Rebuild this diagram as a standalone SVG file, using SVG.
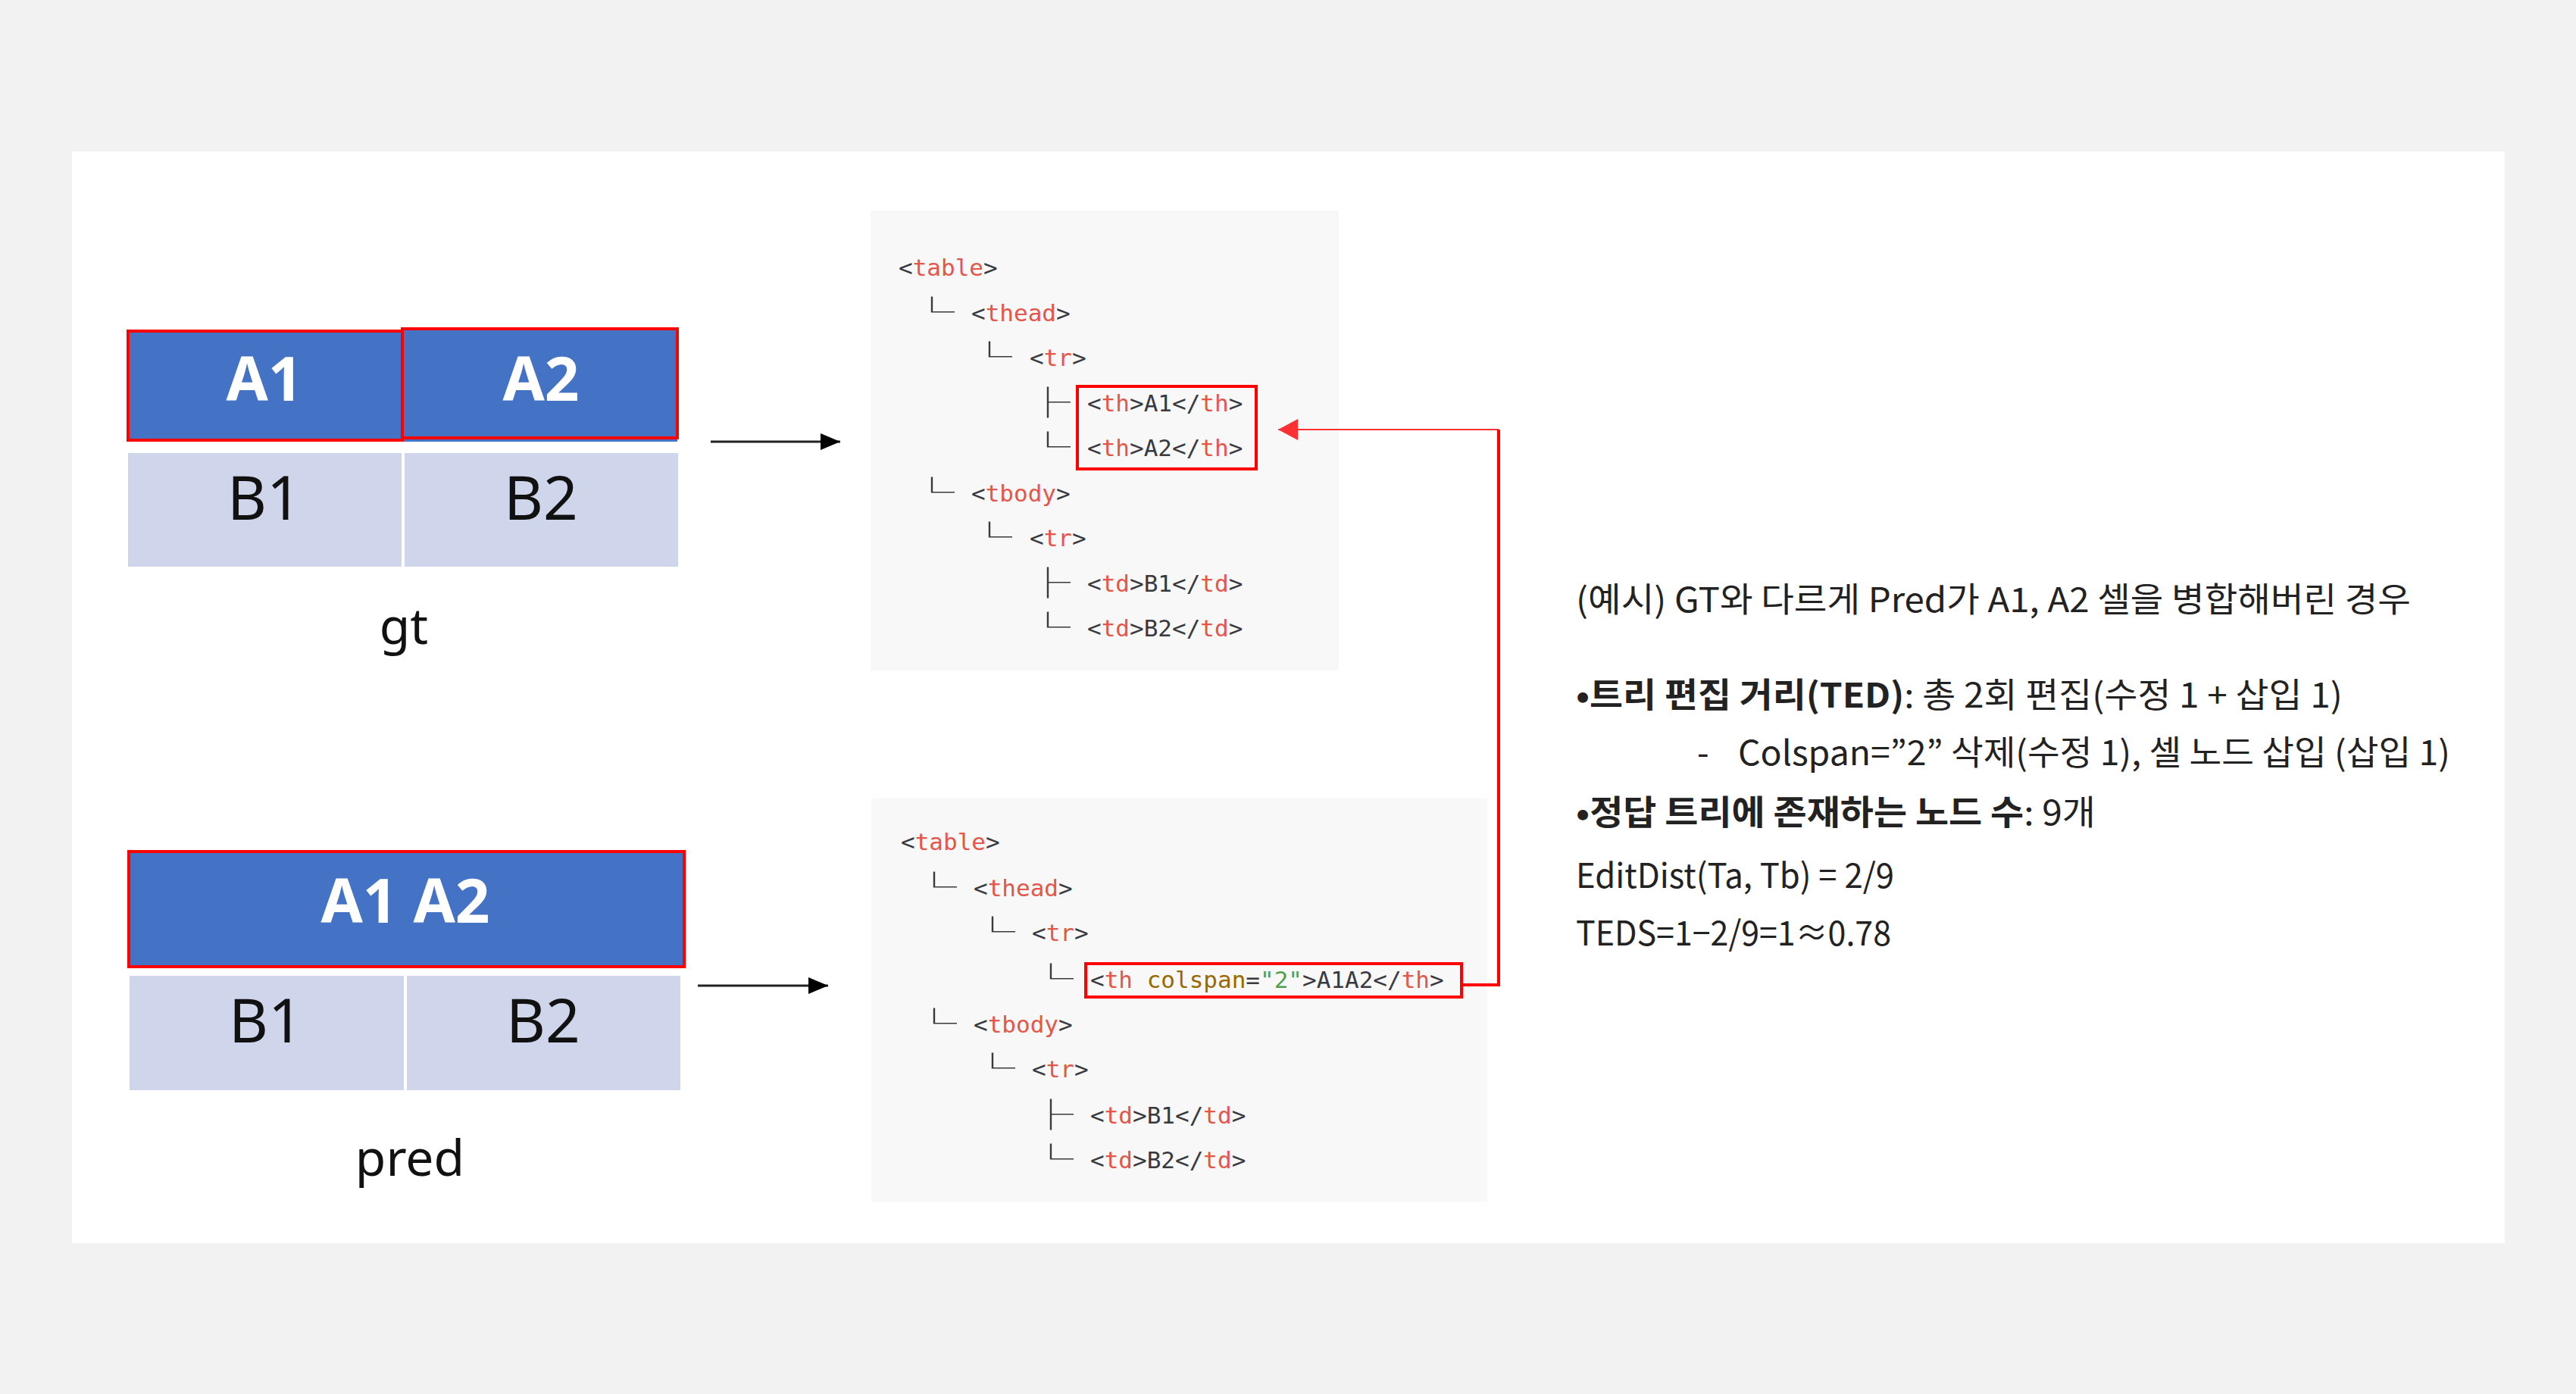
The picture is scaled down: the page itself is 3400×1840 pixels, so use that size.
<svg xmlns="http://www.w3.org/2000/svg" width="3400" height="1840" viewBox="0 0 3400 1840">
<defs>
<style>
.hd{fill:#4472C4}
.bd{fill:#CFD5EA}
.hl{fill:none;stroke:#FF0000;stroke-width:4}
.cbox{fill:#F8F8F8}
.lblA{font-family:"Noto Sans","Open Sans",sans-serif;font-size:80px;font-weight:700;fill:#FFFFFF;text-anchor:middle}
.lblB{font-family:"Noto Sans","Open Sans",sans-serif;font-size:80px;fill:#111111;text-anchor:middle}
.cap{font-family:"Noto Sans","Open Sans",sans-serif;font-size:66px;fill:#111111;text-anchor:middle}
.code{font-family:"DejaVu Sans Mono","Liberation Mono",monospace;font-size:31px;fill:#383A42}
.tag{fill:#E45649}
.attr{fill:#986801}
.str{fill:#50A14F}
.bx{font-family:"Noto Sans CJK KR","DejaVu Sans Mono",monospace;font-size:40px;font-weight:700;fill:#3A3A3A}
.note{font-family:"Noto Sans CJK KR","Noto Sans",sans-serif;font-size:45px;fill:#222222}
.b{font-weight:700}
.blk{stroke:#222222;stroke-width:3;fill:none}
.red1{stroke:#FF0000;stroke-width:2;fill:none;opacity:0.8}
.red2{stroke:#FF0000;stroke-width:4;fill:none}
</style>
<marker id="ah" markerWidth="26" markerHeight="22" refX="26" refY="11" orient="auto" markerUnits="userSpaceOnUse">
<path d="M0,0 L26,11 L0,22 Z" fill="#000000"/>
</marker>
<marker id="ahr" markerWidth="26" markerHeight="28" refX="26" refY="14" orient="auto" markerUnits="userSpaceOnUse">
<path d="M0,0 L26,14 L0,28 Z" fill="#FF0000"/>
</marker>
</defs>

<rect x="0" y="0" width="3400" height="1840" fill="#F2F2F2"/>
<rect x="95" y="200" width="3211" height="1441" fill="#FFFFFF"/>

<g id="gt-table">
<rect class="hd" x="169" y="437" width="362" height="144"/>
<rect class="hd" x="531" y="434" width="363" height="149"/>
<rect class="hl" x="169" y="437" width="362" height="144"/>
<rect class="hl" x="531" y="434" width="363" height="144"/>
<rect class="bd" x="169" y="598" width="361" height="150"/>
<rect class="bd" x="534" y="598" width="361" height="150"/>
<text class="lblA" x="349" y="529">A1</text>
<text class="lblA" x="714" y="529">A2</text>
<text class="lblB" x="349" y="686">B1</text>
<text class="lblB" x="714" y="686">B2</text>
<text class="cap" x="533" y="850">gt</text>
</g>

<g id="pred-table">
<rect class="hd" x="170" y="1124" width="733" height="152"/>
<rect class="hl" x="170" y="1124" width="733" height="152"/>
<rect class="bd" x="171" y="1288" width="362" height="151"/>
<rect class="bd" x="537" y="1288" width="361" height="151"/>
<text class="lblA" x="535" y="1218">A1 A2</text>
<text class="lblB" x="351" y="1376">B1</text>
<text class="lblB" x="717" y="1376">B2</text>
<text class="cap" x="541" y="1552">pred</text>
</g>

<g id="gt-code">
<rect class="cbox" x="1149" y="278" width="618" height="607"/>
<text class="code" x="1186" y="364">&lt;<tspan class="tag">table</tspan>&gt;</text>
<text class="bx" transform="translate(1200,427) scale(1.5,1)">└</text>
<text class="code" x="1282" y="424">&lt;<tspan class="tag">thead</tspan>&gt;</text>
<text class="bx" transform="translate(1276,486) scale(1.5,1)">└</text>
<text class="code" x="1359" y="483">&lt;<tspan class="tag">tr</tspan>&gt;</text>
<text class="bx" transform="translate(1353,546) scale(1.5,1)">├</text>
<text class="code" x="1435" y="543">&lt;<tspan class="tag">th</tspan>&gt;A1&lt;/<tspan class="tag">th</tspan>&gt;</text>
<text class="bx" transform="translate(1353,605) scale(1.5,1)">└</text>
<text class="code" x="1435" y="602">&lt;<tspan class="tag">th</tspan>&gt;A2&lt;/<tspan class="tag">th</tspan>&gt;</text>
<text class="bx" transform="translate(1200,665) scale(1.5,1)">└</text>
<text class="code" x="1282" y="662">&lt;<tspan class="tag">tbody</tspan>&gt;</text>
<text class="bx" transform="translate(1276,724) scale(1.5,1)">└</text>
<text class="code" x="1359" y="721">&lt;<tspan class="tag">tr</tspan>&gt;</text>
<text class="bx" transform="translate(1353,784) scale(1.5,1)">├</text>
<text class="code" x="1435" y="781">&lt;<tspan class="tag">td</tspan>&gt;B1&lt;/<tspan class="tag">td</tspan>&gt;</text>
<text class="bx" transform="translate(1353,843) scale(1.5,1)">└</text>
<text class="code" x="1435" y="840">&lt;<tspan class="tag">td</tspan>&gt;B2&lt;/<tspan class="tag">td</tspan>&gt;</text>
<rect class="hl" x="1422" y="510" width="236" height="109"/>
</g>

<g id="pred-code">
<rect class="cbox" x="1150" y="1054" width="813" height="532"/>
<text class="code" x="1189" y="1122">&lt;<tspan class="tag">table</tspan>&gt;</text>
<text class="bx" transform="translate(1203,1186) scale(1.5,1)">└</text>
<text class="code" x="1285" y="1183">&lt;<tspan class="tag">thead</tspan>&gt;</text>
<text class="bx" transform="translate(1280,1245) scale(1.5,1)">└</text>
<text class="code" x="1362" y="1242">&lt;<tspan class="tag">tr</tspan>&gt;</text>
<text class="bx" transform="translate(1357,1307) scale(1.5,1)">└</text>
<text class="code" x="1439" y="1304">&lt;<tspan class="tag">th</tspan> <tspan class="attr">colspan</tspan>=<tspan class="str">"2"</tspan>&gt;A1A2&lt;/<tspan class="tag">th</tspan>&gt;</text>
<text class="bx" transform="translate(1203,1366) scale(1.5,1)">└</text>
<text class="code" x="1285" y="1363">&lt;<tspan class="tag">tbody</tspan>&gt;</text>
<text class="bx" transform="translate(1280,1425) scale(1.5,1)">└</text>
<text class="code" x="1362" y="1422">&lt;<tspan class="tag">tr</tspan>&gt;</text>
<text class="bx" transform="translate(1357,1486) scale(1.5,1)">├</text>
<text class="code" x="1439" y="1483">&lt;<tspan class="tag">td</tspan>&gt;B1&lt;/<tspan class="tag">td</tspan>&gt;</text>
<text class="bx" transform="translate(1357,1545) scale(1.5,1)">└</text>
<text class="code" x="1439" y="1542">&lt;<tspan class="tag">td</tspan>&gt;B2&lt;/<tspan class="tag">td</tspan>&gt;</text>
<rect class="hl" x="1433" y="1272" width="496" height="44"/>
</g>

<g id="notes">
<text class="note" x="2080" y="808" textLength="1102" lengthAdjust="spacingAndGlyphs">(예시) GT와 다르게 Pred가 A1, A2 셀을 병합해버린 경우</text>
<text class="note" x="2080" y="934" textLength="1012" lengthAdjust="spacingAndGlyphs"><tspan class="b">•트리 편집 거리(TED)</tspan>: 총 2회 편집(수정 1 + 삽입 1)</text>
<text class="note" x="2240" y="1010">-</text>
<text class="note" x="2294" y="1010" textLength="940" lengthAdjust="spacingAndGlyphs">Colspan=”2” 삭제(수정 1), 셀 노드 삽입 (삽입 1)</text>
<text class="note" x="2080" y="1089" textLength="686" lengthAdjust="spacingAndGlyphs"><tspan class="b">•정답 트리에 존재하는 노드 수</tspan>: 9개</text>
<text class="note" x="2080" y="1172" textLength="420" lengthAdjust="spacingAndGlyphs">EditDist(Ta, Tb) = 2/9</text>
<text class="note" x="2080" y="1248" textLength="416" lengthAdjust="spacingAndGlyphs">TEDS=1−2/9=1≈0.78</text>
</g>

<g id="connectors">
<line class="blk" x1="938" y1="583" x2="1109" y2="583" marker-end="url(#ah)"/>
<line class="blk" x1="921" y1="1301" x2="1093" y2="1301" stroke="#555555" marker-end="url(#ah)"/>
<path class="red2" d="M1929,1300 L1978,1300 L1978,567"/>
<line class="red1" x1="1978" y1="567" x2="1687" y2="567" marker-end="url(#ahr)"/>
</g>
</svg>
